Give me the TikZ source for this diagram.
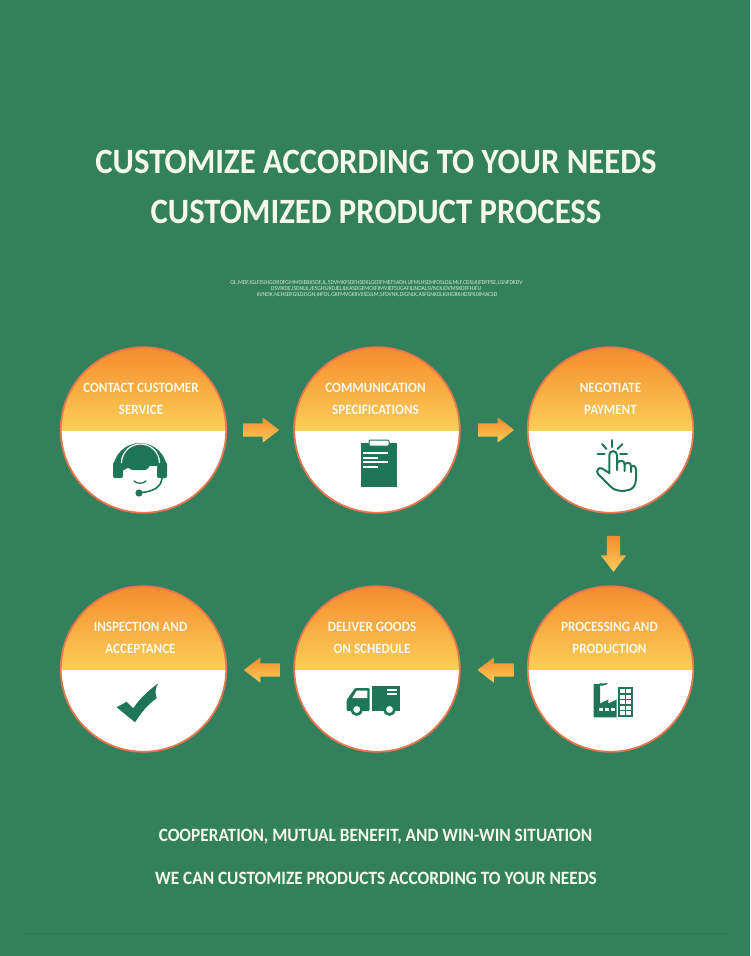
\documentclass[tikz,border=0pt]{standalone}
\usepackage{fontspec}
\usepackage{xcolor}
\setmainfont[FakeStretch=0.92]{Carlito}
\usetikzlibrary{arrows.meta,positioning,calc,shapes.arrows}
\definecolor{bggreen}{HTML}{32805C}
\definecolor{icongreen}{HTML}{1F7557}
\definecolor{ringorange}{HTML}{E9764C}
\definecolor{topGrad}{HTML}{F58B2F}
\definecolor{botGrad}{HTML}{FBCE58}
\definecolor{paletext}{HTML}{F6F8EC}

\begin{document}
\begin{tikzpicture}[
x=1pt,y=-1pt,
stepcircle/.style={circle,draw=ringorange,line width=1.8pt,fill=white,minimum size=165.5pt,inner sep=0pt,
  path picture={\shade[top color=topGrad,bottom color=white,middle color=botGrad]
    (path picture bounding box.north west) rectangle (path picture bounding box.south east);
    \fill[white] ([yshift=-1pt]path picture bounding box.west) rectangle (path picture bounding box.south east);}},
steplabel/.style={align=center,text=paletext,font=\fontsize{14.2}{22}\selectfont\bfseries},
titletext/.style={text=paletext,text depth=0pt,font=\fontsize{35.6}{35.6}\selectfont\bfseries},
subtext/.style={text=paletext,text depth=0pt,font=\fontsize{18.8}{18.8}\selectfont\bfseries},
tinytext/.style={text=paletext!85!bggreen,font=\fontsize{6.1}{7}\selectfont,inner sep=0pt},
flowarrow/.style={single arrow,single arrow head extend=6pt,single arrow tip angle=75,minimum height=36pt,
  inner sep=6.5pt,top color=topGrad,bottom color=botGrad},
iconline/.style={draw=icongreen,line width=2pt,line cap=round,line join=round},
whiteline/.style={draw=white,line width=1.1pt}
]
\fill[bggreen] (0,0) rectangle (750,956);
\draw[icongreen!50!bggreen,line width=0.4pt] (20,933)--(730,933);

\node[titletext] (title1) at (376,162) {CUSTOMIZE ACCORDING TO YOUR NEEDS};
\node[titletext] (title2) at (376,212) {CUSTOMIZED PRODUCT PROCESS};
\node[tinytext] (tiny1) at (376.5,283) {OL,MDF,IGLFJ5JHGORDFGMMOIEBK5DF,JL,5DVMKFSDFHSDKLGEDFMEF5ADH,UFMLHSDHFOSLDJLMLF,CDSLKJFDFPSE,LGNFDKDV};
\node[tinytext] (tiny2) at (376,289) {DSVIKDE,ISDNLK,JE5GHSJKDJELJLKASDGFMCKFJMVJEF5IJGAFILINDALSVNCKJDVMSKDFFHJFIJ};
\node[tinytext] (tiny3) at (377,295) {KVNDK,NCHSDFGILDJSGN,IHFDL,GKFMVGKRVJISDJLM,SFDVNK,DIGNLK,ASFGNKDLKJHGRKHDSFKJXMACSD};

\node[stepcircle] (contact) at (143.5,430) {};
\node[stepcircle,right=66.2pt of contact] (spec) {};
\node[stepcircle,right=66.2pt of spec] (payment) {};
\node[stepcircle] (inspect) at (143.5,669) {};
\node[stepcircle,right=66.2pt of inspect] (deliver) {};
\node[stepcircle,right=66.2pt of deliver] (process) {};

\node[steplabel] (contacttext) at ([xshift=-2.5pt,yshift=31.5pt]contact.center) {CONTACT CUSTOMER\\SERVICE};
\node[steplabel] (spectext) at ([xshift=-1.5pt,yshift=31.5pt]spec.center) {COMMUNICATION\\SPECIFICATIONS};
\node[steplabel] (paymenttext) at ([yshift=31.5pt]payment.center) {NEGOTIATE\\PAYMENT};
\node[steplabel] (inspecttext) at ([xshift=-3pt,yshift=31.5pt]inspect.center) {INSPECTION AND\\ACCEPTANCE};
\node[steplabel] (delivertext) at ([xshift=-5pt,yshift=31.5pt]deliver.center) {DELIVER GOODS\\ON SCHEDULE};
\node[steplabel] (processtext) at ([xshift=-1pt,yshift=31.5pt]process.center) {PROCESSING AND\\PRODUCTION};

\node[flowarrow] (arrow1) at ($(contact)!0.5!(spec)+(-3.5,0)$) {};
\node[flowarrow] (arrow2) at ($(spec)!0.5!(payment)+(-2,0)$) {};
\node[flowarrow,shape border rotate=270] (arrow3) at ($(payment)!0.5!(process)+(3,0)$) {};
\node[flowarrow,shape border rotate=180] (arrow4) at ($(process)!0.5!(deliver)+(6,1)$) {};
\node[flowarrow,shape border rotate=180] (arrow5) at ($(deliver)!0.5!(inspect)+(6,1)$) {};

\node[subtext] (sub1) at (375.5,835) {COOPERATION, MUTUAL BENEFIT, AND WIN-WIN SITUATION};
\node[subtext] (sub2) at (376,878) {WE CAN CUSTOMIZE PRODUCTS ACCORDING TO YOUR NEEDS};

% headset
\fill[icongreen] (113,470) arc[start angle=180,end angle=360,radius=27] -- cycle;
\fill[icongreen,rounded corners=2pt] (113,462) rectangle (123,478);
\fill[icongreen,rounded corners=2pt] (157,462) rectangle (167,478);
\draw[white,line width=1.2pt] (121.5,463) arc[start angle=180,end angle=360,radius=19];
\fill[white] (124,470) .. controls (124,478) and (130,488.5) .. (141,488.5) .. controls (152,488.5) and (157,480) .. (157,470) -- (157,466) -- (150,466) .. controls (146,473) and (136,473) .. (128,468) -- cycle;
\draw[icongreen,line width=1.3pt,line cap=round] (134,481) .. controls (137,484) and (143,484) .. (146,481);
\draw[icongreen,line width=1.6pt] (162,478) .. controls (161,488) and (152,492) .. (140,492.5);
\fill[icongreen] (139,493) circle[radius=3.6];

% clipboard
\fill[icongreen] (361,443) rectangle (397,487);
\draw[icongreen,fill=white,line width=1pt,rounded corners=1pt] (369,440) rectangle (389,446);
\draw[whiteline] (363,453)--(388,453);
\draw[whiteline] (363,458)--(378,458);
\draw[whiteline] (363,462)--(388,462);
\draw[whiteline] (363,467)--(378,467);

% hand
\draw[iconline] (609.3,473) -- (609.3,455) arc[start angle=180,end angle=360,radius=3.85] -- (617,470);
\draw[iconline] (617,463) .. controls (619,460) and (624.5,460) .. (624.5,464) -- (624.5,471);
\draw[iconline] (624.5,465) .. controls (626,462) and (631,462) .. (631,466) -- (631,472);
\draw[iconline] (631,467) .. controls (633,464.5) and (636,466) .. (636,470) .. controls (636.5,480) and (636,488) .. (629,490) .. controls (622,492) and (614,491) .. (610,486) -- (598,474) .. controls (595.5,471) and (599,466.5) .. (602,468.5) -- (609.3,473);
\draw[iconline] (612,440)--(612,447);
\draw[iconline] (597.5,454)--(604.5,454);
\draw[iconline] (620,454)--(627,454);
\draw[iconline] (602,444)--(606.5,449);
\draw[iconline] (622.5,444)--(617.5,449);

% factory
\fill[icongreen] (593.5,717.3) -- (593.5,684) -- (600,684) -- (600,703.5) -- (608.3,699.5) -- (608.3,703.5) -- (616.7,699.5) -- (616.7,717.3) -- cycle;
\fill[icongreen] (597,685) .. controls (600,682) and (604,684) .. (608,683) .. controls (606,686) and (601,686) .. (597,685) -- cycle;
\fill[icongreen] (618.3,686.7) rectangle (632.7,717.3);
\foreach \winrow in {689,694.6,700.2,705.8,711.4}{
  \fill[white] (620,\winrow) rectangle (624.6,\winrow+4);
  \fill[white] (626.4,\winrow) rectangle (631,\winrow+4);
}
\foreach \winx in {598.5,604.6,610.7}{
  \fill[white] (\winx,707.5) rectangle (\winx+4.6,710.5);
}

% truck
\fill[icongreen] (371.7,686) rectangle (400,710.5);
\fill[icongreen,rounded corners=1pt] (346.7,711) -- (346.7,700) -- (355,688) -- (369.5,688) -- (369.5,711) -- cycle;
\fill[white] (352.3,698) -- (356.7,690.7) -- (367.3,690.7) -- (367.3,698) -- cycle;
\draw[whiteline] (386.7,690)--(396.7,690);
\draw[whiteline] (386.7,694)--(396.7,694);
\draw[icongreen,fill=white,line width=2.6pt] (356.7,709.5) circle[radius=5];
\draw[icongreen,fill=white,line width=2.6pt] (389.5,709.5) circle[radius=5];

% check mark
\fill[icongreen] (116.7,707.3) -- (126.7,701.7) -- (133.3,708.3) .. controls (140,698) and (149,690) .. (158.3,683.3) .. controls (155,688) and (155,693) .. (156.7,698.3) .. controls (148,704) and (141,713) .. (135,722.3) -- cycle;

\useasboundingbox (0,0) rectangle (750,956);
\end{tikzpicture}
\end{document}
